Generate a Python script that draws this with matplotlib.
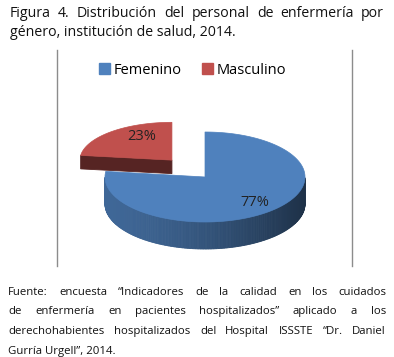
import numpy as np
import matplotlib
matplotlib.use("Agg")
import matplotlib.pyplot as plt
from matplotlib.patches import Polygon, Patch
from matplotlib.colors import to_rgb

# data
categorias = ["Femenino", "Masculino"]
porcentajes = [77, 23]
colores_top = ["#4F81BD", "#C0504D"]

titulo = ["Figura 4. Distribución del personal de enfermería por",
          "género, institución de salud, 2014."]
fuente = ["Fuente: encuesta “Indicadores de la calidad en los cuidados",
          "de enfermería en pacientes hospitalizados” aplicado a los",
          "derechohabientes hospitalizados del Hospital ISSSTE “Dr. Daniel",
          "Gurría Urgell”, 2014."]

W, H = 394, 357
plt.rcParams['font.family'] = ['Open Sans', 'DejaVu Sans']
fig = plt.figure(figsize=(W / 100, H / 100), dpi=100)
ax = fig.add_axes([0, 0, 1, 1])
ax.set_xlim(0, W)
ax.set_ylim(H, 0)
ax.axis("off")
renderer = fig.canvas.get_renderer()


def justified(lines, x0, x1, y0, dy, size, last_plain=True):
    # one text per word so the line can be spread to full width
    inv = ax.transData.inverted()
    for i, line in enumerate(lines):
        y = round(y0 + i * dy)
        words = line.split(" ")
        if (last_plain and i == len(lines) - 1) or len(words) == 1:
            ax.text(x0, y, line, fontsize=size, va="baseline", ha="left", color="#111111")
            continue
        arts = [ax.text(0, y, w, fontsize=size, va="baseline", ha="left", color="#111111") for w in words]
        widths = []
        for t in arts:
            bb = t.get_window_extent(renderer)
            widths.append(inv.transform((bb.x1, bb.y0))[0] - inv.transform((bb.x0, bb.y0))[0])
        gap = (x1 - x0 - sum(widths)) / (len(words) - 1)
        x = x0
        for t, w in zip(arts, widths):
            t.set_x(round(x))
            x += w + gap


justified(titulo, 10, 384, 17, 18.5, 10.2)
justified(fuente, 8, 386, 295, 19.5, 8.2)

# frame lines
ax.plot([57, 57], [50, 266], color="#8c8c8c", lw=1)
ax.plot([352, 352], [50, 266], color="#8c8c8c", lw=1)

# pie geometry
cx, cy = 205, 177
a, b, depth = 100, 45, 27
explode = [0.0, 0.5]
scale = [(1.0, 1.0, 1.0), (0.92, 0.84, 0.5)]
label_r = [(0.75, 0.75), (0.5, 0.85)]


def pt(cxx, cyy, aa, bb, t):
    return cxx + aa * np.cos(t), cyy - bb * np.sin(t)


def shade(c, f):
    r, g, bl = to_rgb(c)
    return (r * f, g * f, bl * f)


fracs = np.array(porcentajes) / sum(porcentajes)
starts = np.deg2rad(90 - 360 * np.concatenate([[0], np.cumsum(fracs)[:-1]]))
ends = starts - 2 * np.pi * fracs

for i in [1, 0]:
    t0, t1 = starts[i], ends[i]
    mid = (t0 + t1) / 2
    sa, sb, sd = scale[i]
    aa, bb, dd = a * sa, b * sb, depth * sd
    ccx = cx + explode[i] * a * np.cos(mid)
    ccy = cy - explode[i] * b * np.sin(mid)
    col = colores_top[i]
    # outer side, front half only
    ts = np.linspace(t0, t1, 300)
    front = ts[np.sin(ts) < 0]
    for k in range(len(front) - 1):
        u = (np.cos(front[k]) + 1) / 2
        f = 0.80 - 0.42 * u ** 1.5
        xs0, ys0 = pt(ccx, ccy, aa, bb, front[k])
        xs1, ys1 = pt(ccx, ccy, aa, bb, front[k + 1])
        ax.add_patch(Polygon([(xs0, ys0), (xs1, ys1), (xs1, ys1 + dd), (xs0, ys0 + dd)],
                             closed=True, fc=shade(col, f), ec=shade(col, f), lw=0.6))
    # radial faces that look to the front
    for t, nrm in ((t0, t0 + np.pi / 2), (t1, t1 - np.pi / 2)):
        if np.sin(nrm) < -0.3:
            rx, ry = pt(ccx, ccy, aa, bb, t)
            ax.add_patch(Polygon([(ccx, ccy), (rx, ry), (rx, ry + dd), (ccx, ccy + dd)],
                                 closed=True, fc=shade(col, 0.45), ec=shade(col, 0.45), lw=0.6))
    # top face
    tt = np.linspace(t0, t1, 200)
    xs, ys = pt(ccx, ccy, aa, bb, tt)
    ax.add_patch(Polygon([(ccx, ccy)] + list(zip(xs, ys)), closed=True, fc=col, ec=col, lw=0.5))
    lx, ly = pt(ccx, ccy, aa * label_r[i][0], bb * label_r[i][1], mid)
    ax.text(lx, ly, f"{porcentajes[i]}%", fontsize=10.5, ha="center", va="center", color="#222222")

handles = [Patch(fc=c, ec=c) for c in colores_top]
ax.legend(handles, categorias, loc="center", bbox_to_anchor=(193 / W, 1 - 70 / H),
          ncol=2, frameon=False, fontsize=10.5, handlelength=0.7, handleheight=0.7,
          handletextpad=0.3, columnspacing=1.4)

fig.savefig("out.png", dpi=100)
